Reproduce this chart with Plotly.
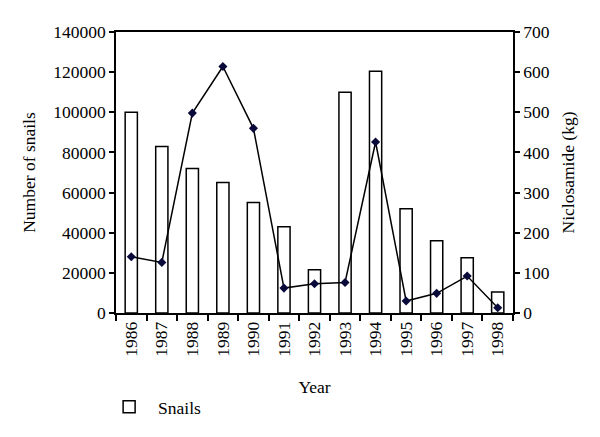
import plotly.graph_objects as go

years = ["1986", "1987", "1988", "1989", "1990", "1991", "1992",
         "1993", "1994", "1995", "1996", "1997", "1998"]
snails = [100000, 83000, 72000, 65000, 55000, 43000, 21500,
          110000, 120500, 52000, 36000, 27500, 10500]
niclosamide = [140, 126, 498, 614, 460, 62, 73, 76, 426, 30, 49, 92, 13]

FONT = "Liberation Serif, DejaVu Serif, serif"
TF = dict(family=FONT, size=17.5, color="black")

fig = go.Figure()
fig.add_trace(go.Bar(
    x=years, y=snails, name="Snails", width=0.4,
    marker=dict(color="white", line=dict(color="black", width=1.5)),
    showlegend=True,
))
fig.add_trace(go.Scatter(
    x=years, y=niclosamide, name="Niclosamide", yaxis="y2",
    mode="lines+markers",
    line=dict(color="black", width=1.5),
    marker=dict(symbol="diamond", size=7, color="#0a0a3a"),
    showlegend=False,
))

fig.update_layout(
    width=592, height=429,
    margin=dict(l=108, r=87, t=24, b=121),
    paper_bgcolor="white", plot_bgcolor="white",
    font=TF,
    xaxis=dict(
        type="category", tickangle=-90, tickson="boundaries",
        ticks="outside", ticklen=6, tickwidth=1.5, tickcolor="black",
        showline=True, linecolor="black", linewidth=1.5, mirror=True,
        showgrid=False, range=[-0.5, 12.5], automargin=False,
        tickfont=TF,
        title=dict(text="Year", standoff=25, font=TF),
    ),
    yaxis=dict(
        range=[0, 140000], dtick=20000, tickformat="d",
        ticks="outside", ticklen=5, tickwidth=1.5, tickcolor="black",
        showline=True, linecolor="black", linewidth=1.5,
        showgrid=False, zeroline=False, automargin=False,
        tickfont=TF,
        title=dict(text="Number of snails", standoff=13, font=TF),
    ),
    yaxis2=dict(
        range=[0, 700], dtick=100, overlaying="y", side="right",
        ticks="outside", ticklen=5, tickwidth=1.5, tickcolor="black",
        showline=True, linecolor="black", linewidth=1.5,
        showgrid=False, zeroline=False, automargin=False,
        tickfont=TF,
        title=dict(text="Niclosamide (kg)", standoff=13, font=TF),
    ),
    legend=dict(x=-0.04, y=-0.27, xanchor="left", yanchor="top",
                orientation="h", font=TF, itemwidth=48,
                bgcolor="rgba(0,0,0,0)"),
)

fig.write_html("out.html")
